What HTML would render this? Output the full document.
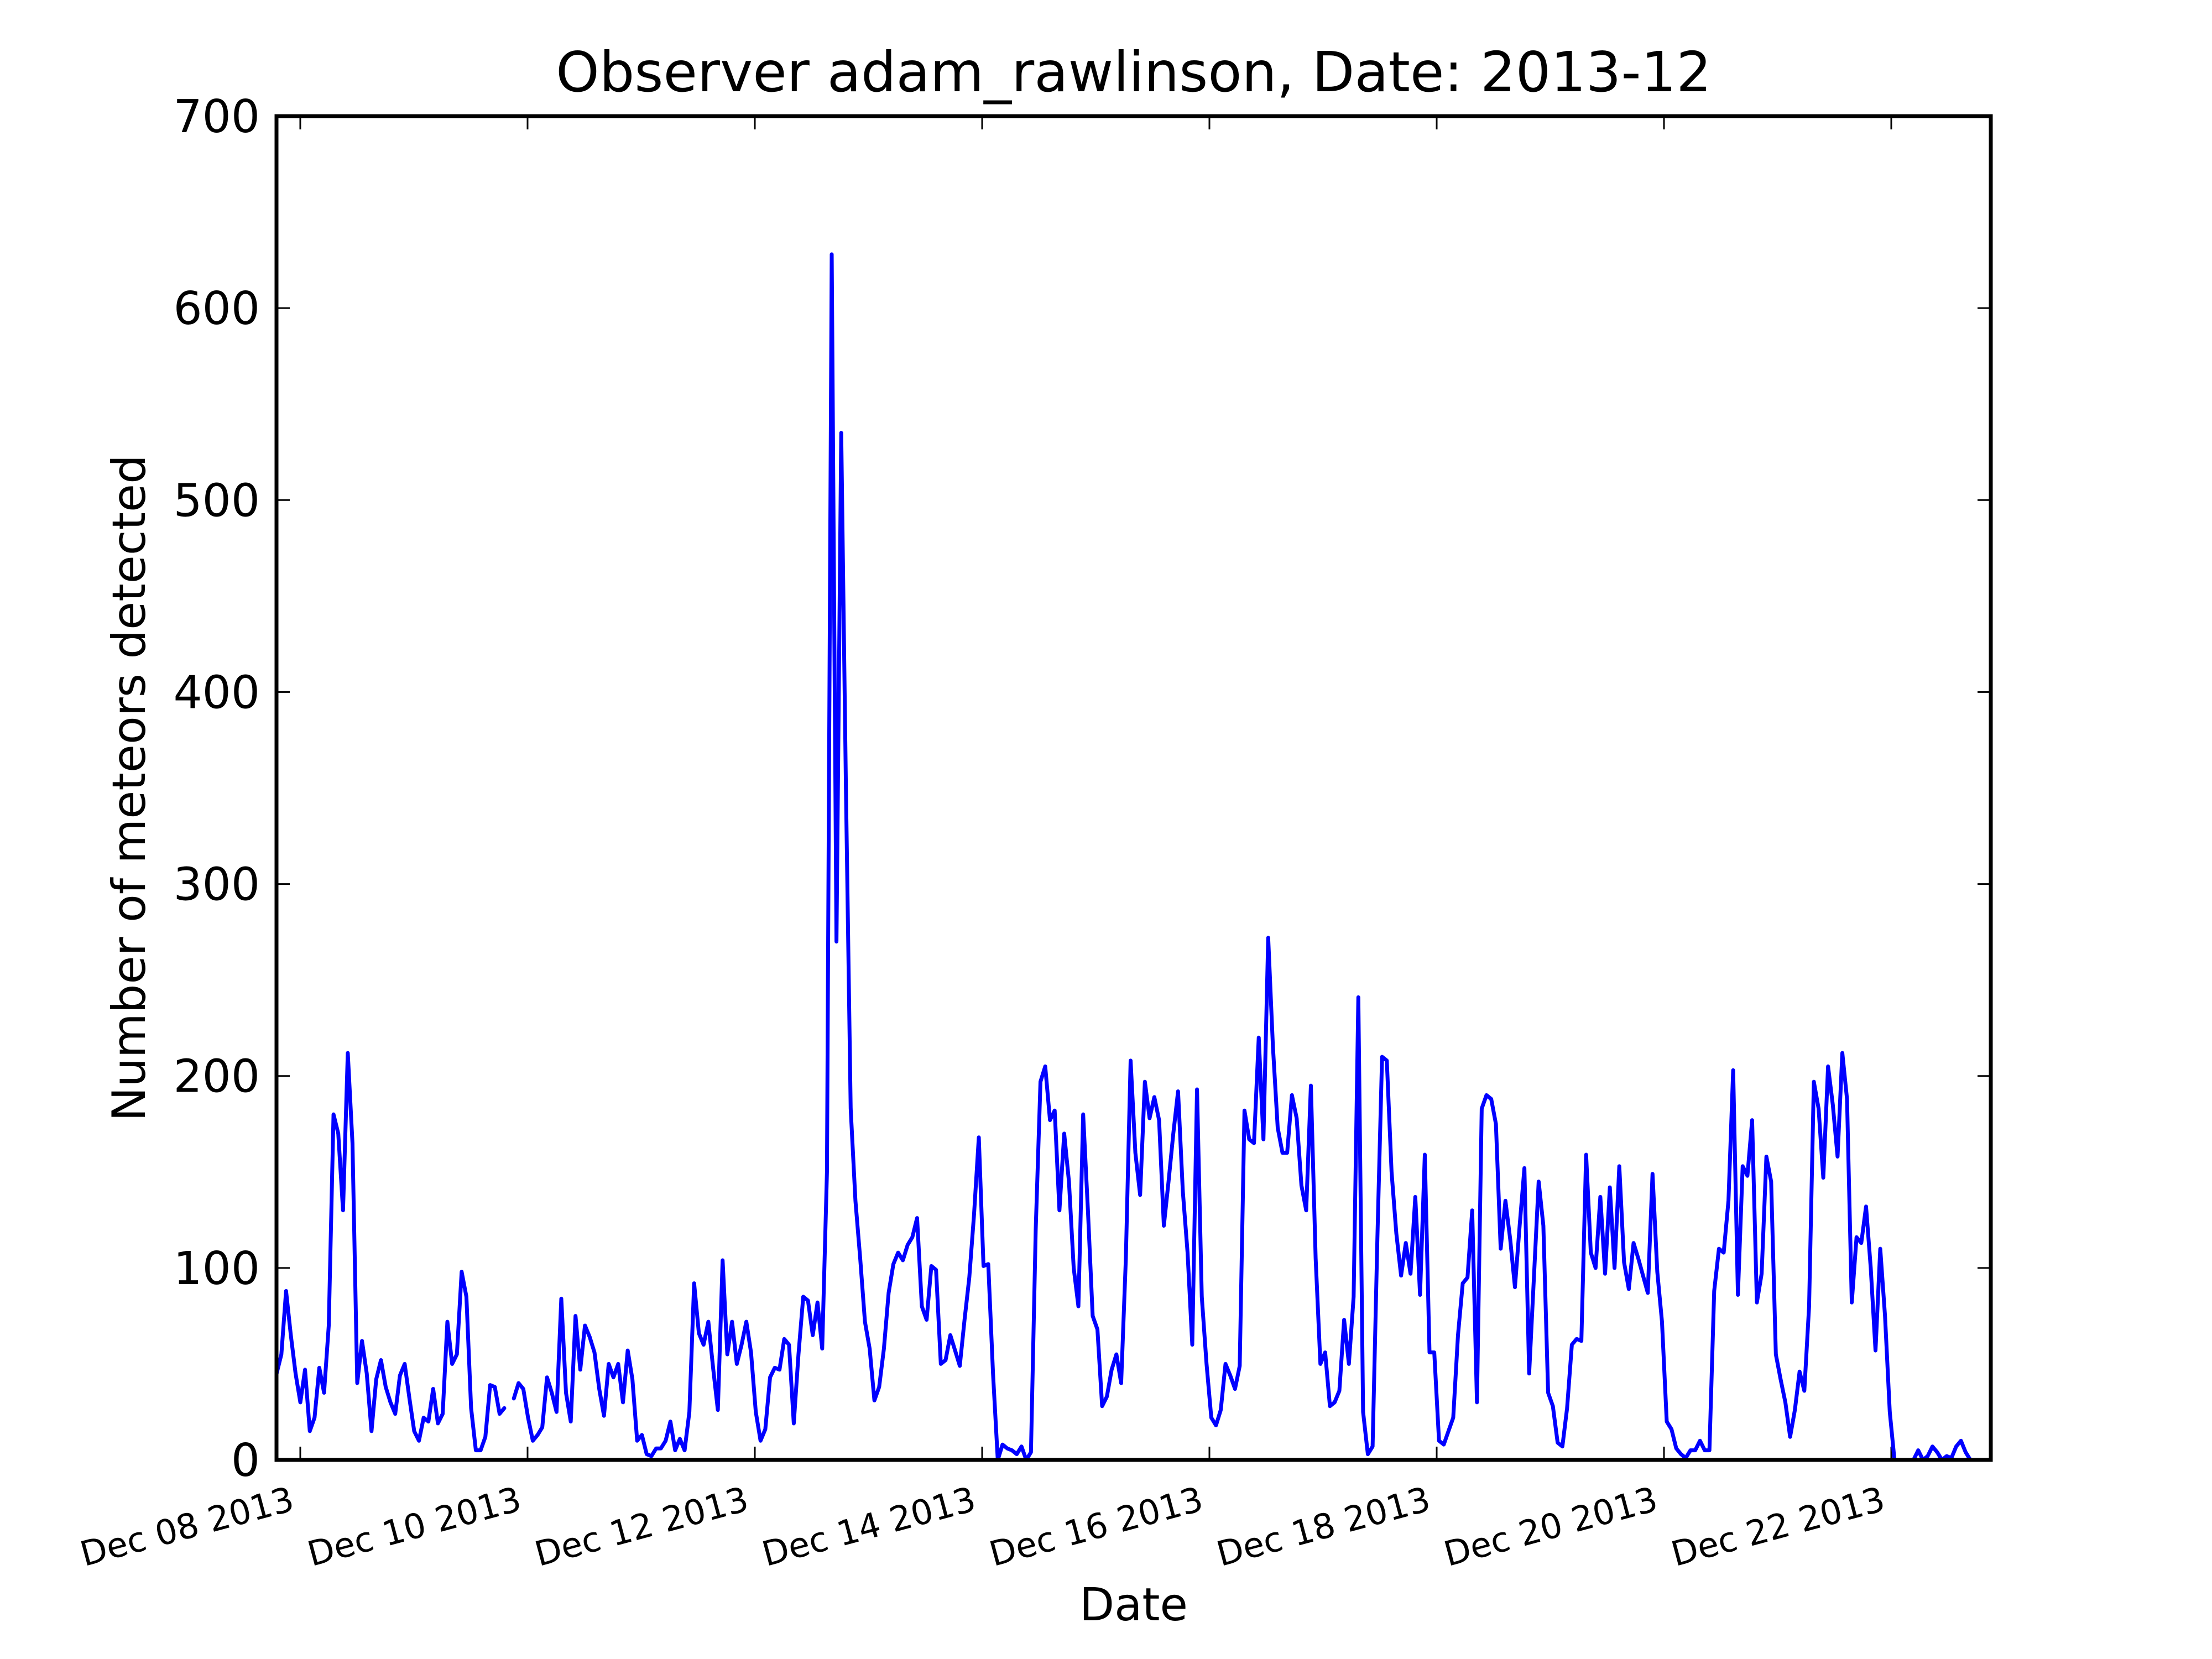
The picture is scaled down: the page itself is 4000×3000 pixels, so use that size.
<!DOCTYPE html>
<html><head><meta charset="utf-8"><style>
html,body{margin:0;padding:0;background:#fff;}
svg{display:block;font-family:"DejaVu Sans","Liberation Sans",sans-serif;}
</style></head><body>
<svg id="chart" width="4000" height="3000" viewBox="0 0 4000 3000">
<rect width="4000" height="3000" fill="#fff"/>
<text x="2050" y="165" font-size="100" text-anchor="middle">Observer adam_rawlinson, Date: 2013-12</text>
<text x="2050" y="2930" font-size="82" text-anchor="middle">Date</text>
<text transform="translate(262,1425) rotate(-90)" font-size="83" text-anchor="middle">Number of meteors detected</text>
<g id="ticks"></g>
<g id="series"></g>
<rect x="500" y="210" width="3100" height="2430" fill="none" stroke="#000" stroke-width="7"/>
</svg>
<script>
const startHour = -5;
const counts = [45,55,88,65,45,30,47,15,22,48,35,70,180,170,130,212,165,40,62,45,15,42,52,38,30,24,44,50,32,15,10,22,20,37,19,24,72,50,55,98,85,27,5,5,12,39,38,24,27,null,32,40,37,22,10,13,17,43,35,25,84,35,20,75,47,70,64,56,37,23,50,43,50,30,57,42,10,13,3,2,6,6,10,20,5,11,5,25,92,66,60,72,48,26,104,55,72,50,60,72,56,25,10,16,43,48,47,63,60,19,55,85,83,65,82,58,150,628,270,535,350,183,135,105,72,58,31,38,58,87,102,108,104,112,116,126,80,73,101,99,50,52,65,57,49,73,95,128,168,101,102,45,0,8,6,5,3,7,0,4,120,197,205,177,182,130,170,145,100,80,180,130,75,68,28,33,47,55,40,105,208,160,138,197,178,189,177,122,145,170,192,140,108,60,193,85,50,22,18,26,50,44,37,49,182,167,165,220,167,272,215,173,160,160,190,178,143,130,195,105,50,56,28,30,36,73,50,85,241,25,3,7,115,210,208,150,118,96,113,97,137,86,159,56,56,10,8,15,22,65,92,95,130,30,183,190,188,175,110,135,115,90,122,152,45,95,145,122,35,28,9,7,27,60,63,62,159,108,100,137,97,142,100,153,103,89,113,105,96,87,149,98,72,20,16,6,3,1,5,5,10,5,5,88,110,108,135,203,86,153,148,177,82,97,158,145,55,42,30,12,26,46,36,80,197,183,147,205,185,158,212,188,82,116,113,132,100,57,110,75,25,0,0,0,0,0,5,0,2,7,4,0,2,1,7,10,4,0];
const yTicks = [0,100,200,300,400,500,600,700];
const xTickHours = [0,48,96,144,192,240,288,336];
const xTickLabels = ["Dec 08 2013","Dec 10 2013","Dec 12 2013","Dec 14 2013","Dec 16 2013","Dec 18 2013","Dec 20 2013","Dec 22 2013"];

const NS = "http://www.w3.org/2000/svg";
const X0 = 500, X1 = 3600, Y0 = 2640, Y1 = 210;
const hourMin = -5.02, hourMax = (X1 - 543) / 8.5625;
const hourScale = 1.002;
function xs(h){ return X0 + (h - hourMin) / (hourMax - hourMin) * (X1 - X0); }
function ys(v){ return Y0 - v / 700 * (Y0 - Y1); }
function mk(tag, attrs){ const e = document.createElementNS(NS, tag); for (const k in attrs) e.setAttribute(k, attrs[k]); return e; }

const tg = document.getElementById('ticks');
yTicks.forEach(v => {
  const y = ys(v);
  const t1 = mk('line', {x1: X0, x2: X0 + 24, y1: y, y2: y, stroke: '#000', 'stroke-width': 3});
  
  
  tg.appendChild(t1);
  const t2 = mk('line', {x1: X1, x2: X1 - 24, y1: y, y2: y, stroke: '#000', 'stroke-width': 3});
  
  
  tg.appendChild(t2);
  const lb = mk('text', {x: 470, y: y + 29, 'font-size': 82, 'text-anchor': 'end'});
  
  
  lb.textContent = v;
  tg.appendChild(lb);
});
xTickHours.forEach((h, i) => {
  const x = xs(h);
  const t1 = mk('line', {x1: x, x2: x, y1: Y0, y2: Y0 - 24, stroke: '#000', 'stroke-width': 3});
  
  
  tg.appendChild(t1);
  const t2 = mk('line', {x1: x, x2: x, y1: Y1, y2: Y1 + 24, stroke: '#000', 'stroke-width': 3});
  
  
  tg.appendChild(t2);
  const lb = mk('text', {x: 0, y: 0, 'font-size': 62, 'text-anchor': 'end', transform: `translate(${x - 8},${Y0 + 90}) rotate(-15)`});
  
  
  lb.textContent = xTickLabels[i];
  tg.appendChild(lb);
});

const sg = document.getElementById('series');
let d = '', pen = false;
counts.forEach((v, i) => {
  if (v === null) { pen = false; return; }
  const x = xs(startHour + i * hourScale).toFixed(1), y = ys(v).toFixed(1);
  d += (pen ? 'L' : 'M') + x + ' ' + y + ' ';
  pen = true;
});
const path = mk('path', {d: d, fill: 'none', stroke: '#0000ff', 'stroke-width': 7, 'stroke-linejoin': 'round', 'stroke-linecap': 'round'});


sg.appendChild(path);
</script>
</body></html>
